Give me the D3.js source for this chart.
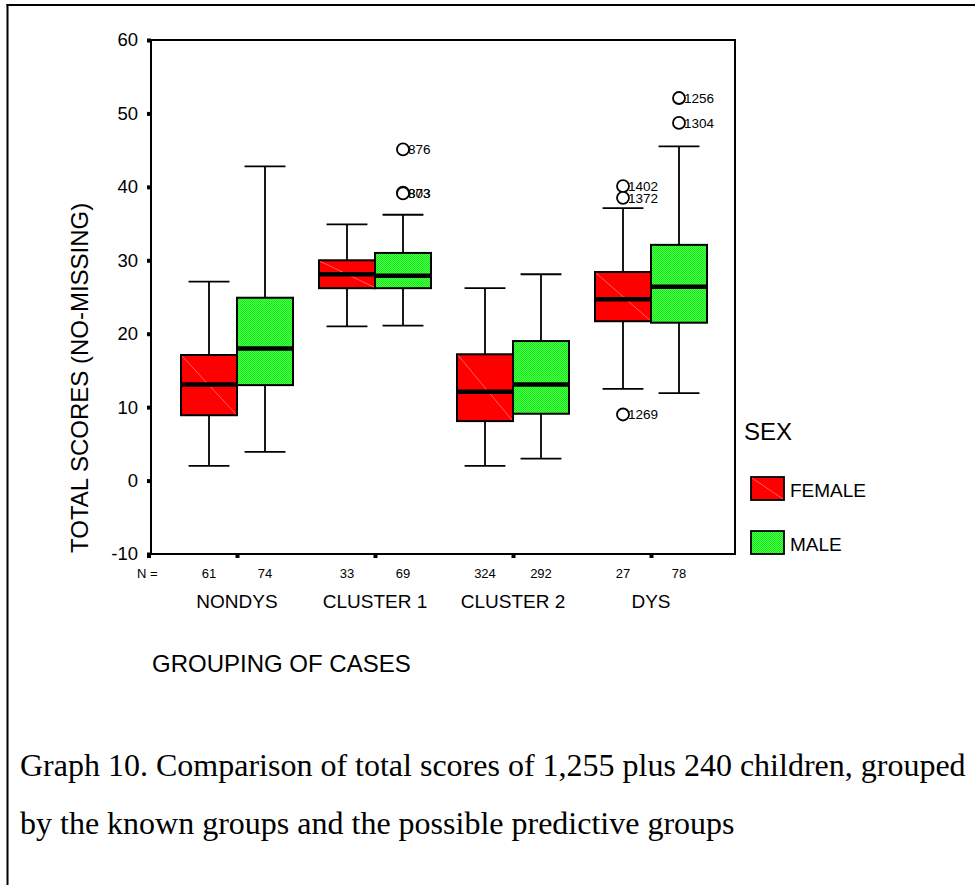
<!DOCTYPE html>
<html>
<head>
<meta charset="utf-8">
<script src="https://cdn.jsdelivr.net/npm/d3@7"></script>
<style>
  body { margin: 0; background: #fff; }
  svg { display: block; font-family: "Liberation Sans", Arial, sans-serif; }
</style>
</head>
<body>
<svg width="975" height="885"></svg>
<script>
// categories and series
const groups = ["NONDYS", "CLUSTER 1", "CLUSTER 2", "DYS"];
const sexes = ["FEMALE", "MALE"];
const counts = [[61, 74], [33, 69], [324, 292], [27, 78]];
// [lower whisker, Q1, median, Q3, upper whisker] per group
const femaleStats = [
  [2.0, 8.9, 13.1, 17.1, 27.1],
  [21.0, 26.2, 28.1, 30.0, 34.9],
  [2.0, 8.1, 12.1, 17.2, 26.2],
  [12.5, 21.7, 24.7, 28.4, 37.1]
];
const maleStats = [
  [3.9, 13.0, 18.0, 24.9, 42.8],
  [21.1, 26.2, 27.9, 31.0, 36.2],
  [3.0, 9.1, 13.1, 19.0, 28.1],
  [11.9, 21.5, 26.4, 32.1, 45.5]
];
// [group, sex, value, case id]
const outliers = [
  ["CLUSTER 1", "MALE", 45.1, "876"],
  ["CLUSTER 1", "MALE", 39.2, "803"],
  ["CLUSTER 1", "MALE", 39.1, "873"],
  ["DYS", "FEMALE", 40.1, "1402"],
  ["DYS", "FEMALE", 38.5, "1372"],
  ["DYS", "FEMALE", 9.0, "1269"],
  ["DYS", "MALE", 52.1, "1256"],
  ["DYS", "MALE", 48.7, "1304"]
];
const yTicks = [-10, 0, 10, 20, 30, 40, 50, 60];
const captionLines = [
  "Graph 10. Comparison of total scores of 1,255 plus 240 children, grouped",
  "by the known groups and the possible predictive groups"
];

let svg = d3.select("svg");
let plotLeft = 151, plotRight = 735, plotTop = 40, plotBottom = 554;

// fills
let defs = svg.append("defs");
let pat = defs.append("pattern")
  .attr("id", "greenDots")
  .attr("patternUnits", "userSpaceOnUse")
  .attr("width", 2).attr("height", 2);
pat.append("rect").attr("width", 2).attr("height", 2).attr("fill", "#4dff4d");
pat.append("rect").attr("width", 1).attr("height", 1).attr("fill", "#19e619");
pat.append("rect").attr("x", 1).attr("y", 1).attr("width", 1).attr("height", 1).attr("fill", "#19e619");

let fillFor = s => s === "FEMALE" ? "#ff0000" : "url(#greenDots)";

// page frame (left and top only)
svg.append("line").attr("x1", 7.5).attr("x2", 7.5).attr("y1", 4).attr("y2", 885)
  .attr("stroke", "#000").attr("stroke-width", 2);
svg.append("line").attr("x1", 6.5).attr("x2", 975).attr("y1", 5).attr("y2", 5)
  .attr("stroke", "#000").attr("stroke-width", 2);

// scales
let y = d3.scaleLinear().domain([-10, 60]).range([plotBottom, plotTop]);
let x = d3.scalePoint().domain(groups).range([237, 651]);
let xSub = d3.scaleBand().domain(sexes).range([-56, 56]);
let bw = xSub.bandwidth();

// axes
let yAxis = d3.axisLeft(y).tickValues(yTicks).tickSize(4).tickPadding(9).tickFormat(d => String(d));
let gy = svg.append("g").attr("transform", `translate(${plotLeft},0)`).call(yAxis);
gy.select(".domain").remove();
gy.selectAll(".tick line").attr("stroke-width", 4);
gy.selectAll(".tick text").attr("font-size", 18.5).attr("font-family", "Liberation Sans, Arial").attr("fill", "#000");

let xAxis = d3.axisBottom(x).tickSize(4).tickFormat("");
let gx = svg.append("g").attr("transform", `translate(0,${plotBottom})`).call(xAxis);
gx.select(".domain").remove();
gx.selectAll(".tick line").attr("stroke-width", 4);
svg.append("rect").attr("x", plotLeft - 4).attr("y", plotBottom).attr("width", 4).attr("height", 4).attr("fill", "#000");

// plot frame
svg.append("rect")
  .attr("x", plotLeft).attr("y", plotTop)
  .attr("width", plotRight - plotLeft).attr("height", plotBottom - plotTop)
  .attr("fill", "none").attr("stroke", "#000").attr("stroke-width", 2);

// boxes
let boxes = [];
groups.forEach((g, i) => {
  boxes.push({ group: g, sex: "FEMALE", s: femaleStats[i], n: counts[i][0] });
  boxes.push({ group: g, sex: "MALE", s: maleStats[i], n: counts[i][1] });
});

let bg = svg.selectAll("g.box").data(boxes).enter().append("g").attr("class", "box");
let cx = d => x(d.group) + xSub(d.sex) + bw / 2;
let capW = bw * 0.73;

bg.append("line")
  .attr("x1", cx).attr("x2", cx)
  .attr("y1", d => y(d.s[0])).attr("y2", d => y(d.s[4]))
  .attr("stroke", "#000").attr("stroke-width", 1.8);
bg.append("line")
  .attr("x1", d => cx(d) - capW / 2).attr("x2", d => cx(d) + capW / 2)
  .attr("y1", d => y(d.s[0])).attr("y2", d => y(d.s[0]))
  .attr("stroke", "#000").attr("stroke-width", 1.8);
bg.append("line")
  .attr("x1", d => cx(d) - capW / 2).attr("x2", d => cx(d) + capW / 2)
  .attr("y1", d => y(d.s[4])).attr("y2", d => y(d.s[4]))
  .attr("stroke", "#000").attr("stroke-width", 1.8);
bg.append("rect")
  .attr("x", d => x(d.group) + xSub(d.sex))
  .attr("y", d => y(d.s[3]))
  .attr("width", bw)
  .attr("height", d => y(d.s[1]) - y(d.s[3]))
  .attr("fill", d => fillFor(d.sex))
  .attr("stroke", "#000").attr("stroke-width", 2);
bg.filter(d => d.sex === "FEMALE").append("line")
  .attr("x1", d => x(d.group) + xSub(d.sex) + 1).attr("y1", d => y(d.s[3]) + 1)
  .attr("x2", d => x(d.group) + xSub(d.sex) + bw - 1).attr("y2", d => y(d.s[1]) - 1)
  .attr("stroke", "#ff8c8c").attr("stroke-width", 0.7);
bg.append("line")
  .attr("x1", d => x(d.group) + xSub(d.sex) + 1).attr("x2", d => x(d.group) + xSub(d.sex) + bw - 1)
  .attr("y1", d => y(d.s[2])).attr("y2", d => y(d.s[2]))
  .attr("stroke", "#000").attr("stroke-width", 4.5);

// N labels
bg.append("text")
  .attr("x", cx).attr("y", 578)
  .attr("text-anchor", "middle").attr("font-size", 13)
  .text(d => d.n);
svg.append("text").attr("x", 137).attr("y", 578).attr("font-size", 13).text("N =");

// outliers
let og = svg.selectAll("g.out").data(outliers).enter().append("g").attr("class", "out");
let ocx = d => x(d[0]) + xSub(d[1]) + bw / 2;
og.append("circle")
  .attr("cx", ocx).attr("cy", d => y(d[2])).attr("r", 6)
  .attr("fill", "#fff").attr("stroke", "#000").attr("stroke-width", 1.8);
og.append("text")
  .attr("x", d => ocx(d) + 5).attr("y", d => y(d[2]) + 5)
  .attr("font-size", 13.5).text(d => d[3]);

// category labels
svg.selectAll("text.cat").data(groups).enter().append("text")
  .attr("class", "cat")
  .attr("x", d => x(d)).attr("y", 608)
  .attr("text-anchor", "middle").attr("font-size", 19)
  .text(d => d);

// axis titles
svg.append("text").attr("x", 152).attr("y", 672).attr("font-size", 24).text("GROUPING OF CASES");
svg.append("text")
  .attr("transform", "translate(88,553) rotate(-90)")
  .attr("font-size", 24).text("TOTAL SCORES (NO-MISSING)");

// legend
svg.append("text").attr("x", 744).attr("y", 440).attr("font-size", 24).text("SEX");
let lg = svg.selectAll("g.leg").data(sexes).enter().append("g").attr("class", "leg")
  .attr("transform", (d, i) => `translate(751,${477 + i * 54})`);
lg.append("rect").attr("width", 33).attr("height", 23)
  .attr("fill", d => fillFor(d)).attr("stroke", "#000").attr("stroke-width", 1.8);
lg.filter(d => d === "FEMALE").append("line")
  .attr("x1", 1).attr("y1", 1).attr("x2", 32).attr("y2", 22)
  .attr("stroke", "#ff8c8c").attr("stroke-width", 0.7);
lg.append("text").attr("x", 39).attr("y", 20).attr("font-size", 19).text(d => d);

// caption
svg.selectAll("text.cap").data(captionLines).enter().append("text")
  .attr("class", "cap")
  .attr("x", 20).attr("y", (d, i) => 776 + i * 58)
  .attr("font-family", "Liberation Serif, Times New Roman, serif")
  .attr("font-size", 32)
  .text(d => d);
</script>
</body>
</html>
